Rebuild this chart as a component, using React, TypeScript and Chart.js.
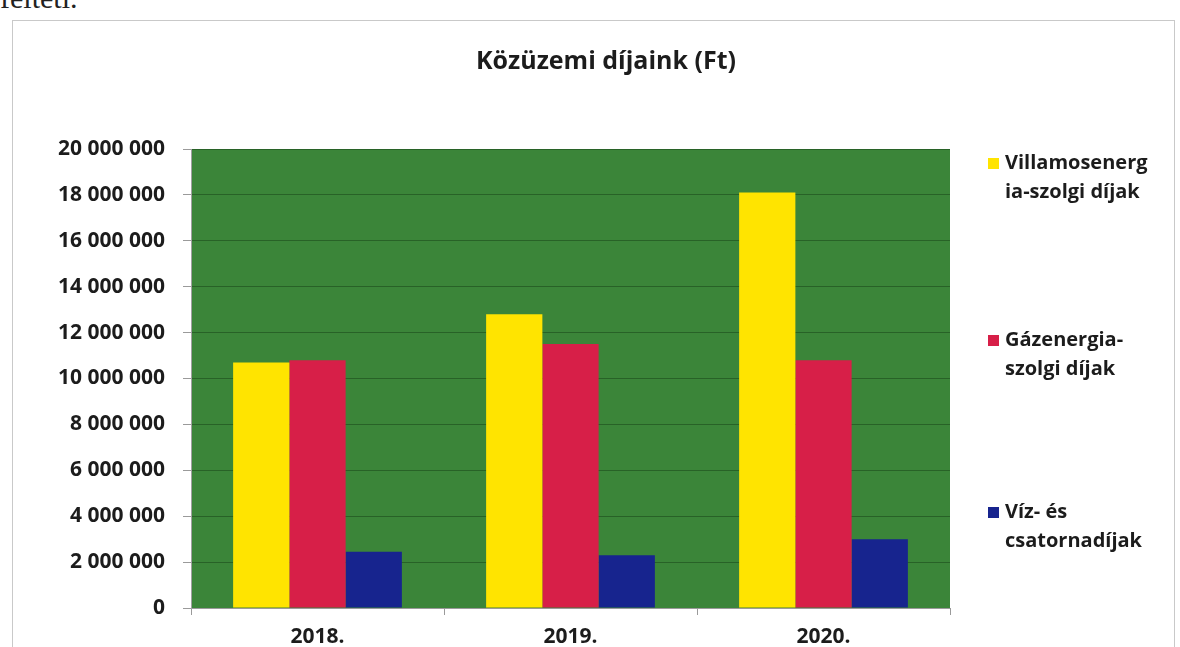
import React, { useEffect, useRef } from 'react';
import { Chart, registerables } from 'chart.js';

Chart.register(...registerables);

const categories = ['2018.', '2019.', '2020.'];
const seriesNames = ['Villamosenergia-szolgi díjak', 'Gázenergia-szolgi díjak', 'Víz- és csatornadíjak'];
const legendLines = [
  ['Villamosenerg', 'ia-szolgi díjak'],
  ['Gázenergia-', 'szolgi díjak'],
  ['Víz- és', 'csatornadíjak'],
];
const villamosValues = [10700000, 12800000, 18100000];
const gazValues = [10800000, 11500000, 10800000];
const vizValues = [2450000, 2300000, 3000000];
const yMin = 0;
const yMax = 20000000;
const yStep = 2000000;
const titleText = 'Közüzemi díjaink (Ft)';
const topFragment = 'felteti.';

const seriesColors = ['#ffe400', '#d71f48', '#17248e'];
const plotGreen = '#3b8539';
const gridGreen = 'rgba(25,70,25,0.55)';
const FONT = "'Open Sans', 'DejaVu Sans', sans-serif";

const fmt = (v: number) => String(v).replace(/\B(?=(\d{3})+(?!\d))/g, ' ');

const decorPlugin = {
  id: 'decor',
  beforeDraw(chart: any) {
    const { ctx, chartArea } = chart;
    ctx.save();
    ctx.fillStyle = plotGreen;
    ctx.fillRect(chartArea.left, chartArea.top, chartArea.right - chartArea.left, chartArea.bottom - chartArea.top);
    ctx.restore();
  },
  afterDraw(chart: any) {
    const { ctx } = chart;
    ctx.save();
    ctx.fillStyle = '#1c1c1c';
    ctx.font = `bold 25px ${FONT}`;
    ctx.textAlign = 'center';
    ctx.textBaseline = 'middle';
    ctx.fillText(titleText, 606, 62);

    const itemTops = [163, 340, 512];
    chart.data.datasets.forEach((ds: any, i: number) => {
      const y0 = itemTops[i];
      ctx.fillStyle = ds.backgroundColor;
      ctx.fillRect(988, y0 - 5, 11, 11);
      ctx.fillStyle = '#1c1c1c';
      ctx.font = `bold 20px ${FONT}`;
      ctx.textAlign = 'left';
      ctx.textBaseline = 'middle';
      legendLines[i].forEach((line, j) => {
        ctx.fillText(line, 1005, y0 + j * 29);
      });
    });
    ctx.restore();
  },
};

export default function App() {
  const ref = useRef<HTMLCanvasElement | null>(null);
  useEffect(() => {
    if (!ref.current) return;
    const chart = new Chart(ref.current, {
      type: 'bar',
      data: {
        labels: categories,
        datasets: [
          { label: seriesNames[0], data: villamosValues, backgroundColor: seriesColors[0] },
          { label: seriesNames[1], data: gazValues, backgroundColor: seriesColors[1] },
          { label: seriesNames[2], data: vizValues, backgroundColor: seriesColors[2] },
        ],
      },
      options: {
        responsive: false,
        animation: false,
        devicePixelRatio: 1,
        layout: { padding: { top: 149, right: 230, left: 0, bottom: 0 } },
        datasets: { bar: { categoryPercentage: 0.667, barPercentage: 1 } },
        plugins: { legend: { display: false }, title: { display: false }, tooltip: { enabled: false } },
        scales: {
          x: {
            grid: { drawOnChartArea: false, tickLength: 7, color: '#9a9a9a', offset: true },
            border: { color: '#9a9a9a' },
            ticks: { color: '#1c1c1c', font: { family: FONT, size: 21, weight: 'bold' }, padding: 9 },
            afterFit: (s: any) => { s.height = 39; },
          },
          y: {
            min: yMin,
            max: yMax,
            ticks: {
              stepSize: yStep,
              color: '#1c1c1c',
              font: { family: FONT, size: 21, weight: 'bold' },
              padding: 18,
              callback: (v: any) => fmt(Number(v)),
            },
            grid: { color: gridGreen, tickColor: '#9a9a9a', tickLength: 8 },
            border: { color: '#a0a0a0' },
            afterFit: (s: any) => { s.width = 191; },
          },
        },
      },
      plugins: [decorPlugin],
    } as any);
    return () => chart.destroy();
  }, []);

  return (
    <div style={{ position: 'absolute', left: 0, top: 0, width: 1180, height: 647, overflow: 'hidden', background: '#fff' }}>
      <div style={{ position: 'absolute', left: 0, top: -19, fontFamily: "'Liberation Serif', serif", fontSize: 30, color: '#222' }}>
        {topFragment}
      </div>
      <div style={{ position: 'absolute', left: 12, top: 20, width: 1163, height: 660, border: '1px solid #c9c9c9', boxSizing: 'border-box' }} />
      <canvas ref={ref} width={1180} height={647} style={{ position: 'absolute', left: 0, top: 0, width: 1180, height: 647 }} />
    </div>
  );
}
